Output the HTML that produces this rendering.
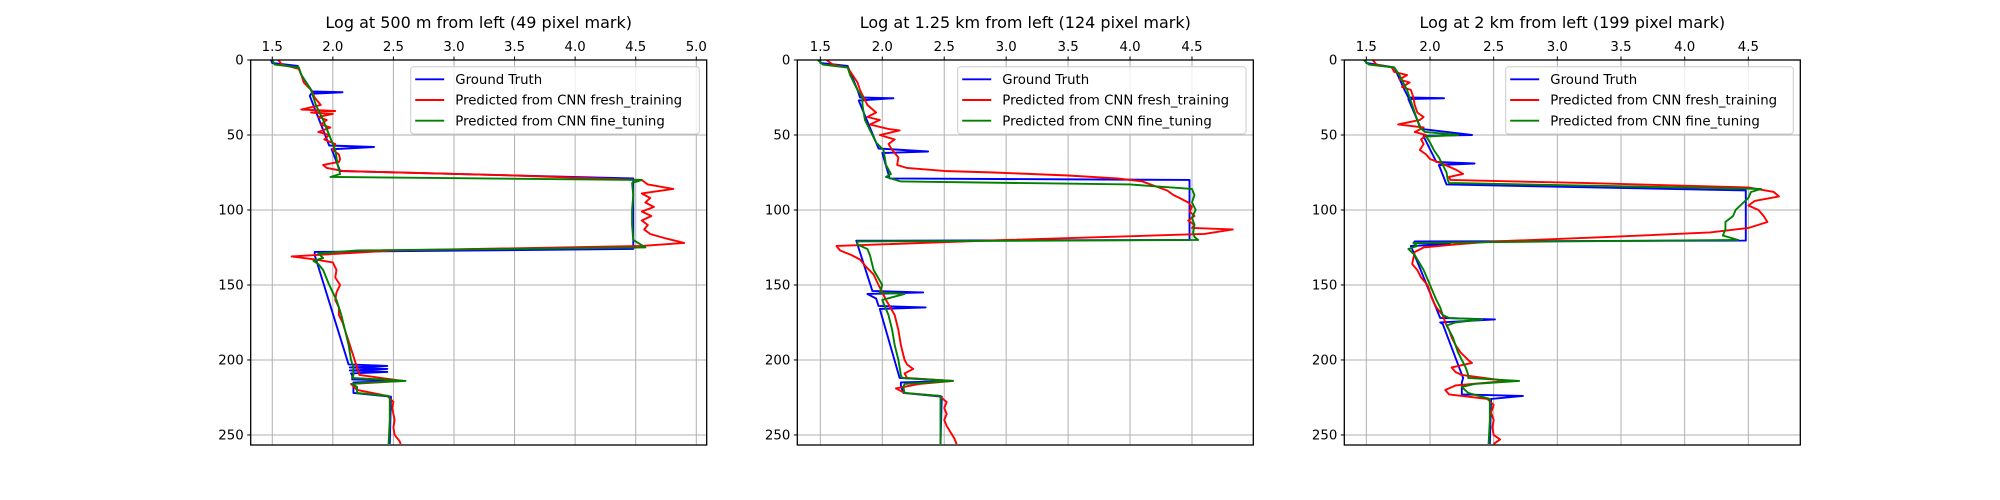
<!DOCTYPE html>
<html><head><meta charset="utf-8"><style>
html,body{margin:0;padding:0;background:#fff;}
svg{display:block;font-family:"DejaVu Sans","Liberation Sans",sans-serif;}
</style></head><body>
<svg id="fig" width="2000" height="500" viewBox="0 0 2000 500" xmlns="http://www.w3.org/2000/svg"></svg>
<script>
const xTickValues = [1.5,2.0,2.5,3.0,3.5,4.0,4.5,5.0];
const yTickValues = [0,50,100,150,200,250];
const titles = ["Log at 500 m from left (49 pixel mark)","Log at 1.25 km from left (124 pixel mark)","Log at 2 km from left (199 pixel mark)"];
const seriesNames = ["Ground Truth","Predicted from CNN fresh_training","Predicted from CNN fine_tuning"];

// Panel 1
const p1TruthDepth = [0,2,4,10,21,21.5,22.5,24,57,58,59.5,74,79,126,128,130,203,204,205,206,207,208,209,210,213,214,215,222,224.5,256];
const p1TruthValue = [1.49,1.5,1.71,1.74,1.83,2.08,1.82,1.81,1.97,2.34,1.99,2.06,4.48,4.48,1.85,1.85,2.13,2.45,2.14,2.45,2.14,2.45,2.15,2.16,2.16,2.58,2.17,2.17,2.48,2.47];
const p1FreshDepth = [0,3,6,10,15,20,25,30,33,34,35,36,38,40,43,45,48,50,53,56,60,63,66,68,70,72,74,77,80,83,86,89,92,95,98,101,104,107,110,113,116,119,122,124,127,131,133,135,140,145,150,155,160,165,170,175,180,185,190,195,200,205,210,214,216,220,224,228,232,236,240,245,250,254,256];
const p1FreshValue = [1.55,1.58,1.72,1.74,1.76,1.82,1.85,1.9,1.74,2.02,1.82,2.0,1.88,1.95,1.9,1.98,1.88,1.97,1.93,2.02,2.0,2.05,2.06,2.05,1.92,1.95,2.08,3.5,4.55,4.6,4.81,4.55,4.62,4.58,4.65,4.55,4.63,4.55,4.6,4.57,4.62,4.75,4.9,4.55,2.5,1.66,1.85,2.0,2.03,2.02,2.06,2.03,2.02,2.05,2.05,2.08,2.1,2.12,2.14,2.16,2.18,2.2,2.22,2.58,2.15,2.2,2.45,2.5,2.49,2.5,2.51,2.5,2.51,2.55,2.56];
const p1FineDepth = [0,3,5,10,15,20,25,30,40,50,60,70,76,78,80,82,90,100,110,120,125,127,129,132,134,136,140,150,160,170,180,190,200,205,210,212,213,214,215,216,218,222,224,226,240,256];
const p1FineValue = [1.5,1.52,1.72,1.74,1.78,1.82,1.84,1.86,1.92,1.97,2.02,2.04,2.06,1.98,4.55,4.47,4.48,4.47,4.47,4.48,4.58,2.2,1.88,1.92,1.84,1.88,1.92,1.97,2.03,2.07,2.1,2.13,2.15,2.17,2.17,2.16,2.4,2.6,2.3,2.16,2.2,2.2,2.46,2.47,2.47,2.46];

// Panel 2
const p2TruthDepth = [0,2,4,20,25,25.5,27,59,61,62,79,80,120,120.5,154,155,156,159,164,165,166,212,214,215,217,222,224.5,256];
const p2TruthValue = [1.5,1.5,1.72,1.8,1.82,2.09,1.81,1.97,2.37,2.0,2.06,4.48,4.48,1.79,1.92,2.33,1.88,1.95,1.97,2.35,1.98,2.14,2.57,2.15,2.15,2.17,2.48,2.47];
const p2FreshDepth = [0,3,5,10,15,20,25,30,35,38,40,43,46,47,50,53,56,60,65,70,72,74,75,77,79,81,84,87,90,92,95,98,101,104,107,110,112,113,116,120,124,127,130,133,138,143,150,155,160,170,180,190,200,203,206,209,212,214,216,219,222,224,228,232,236,240,244,248,252,256];
const p2FreshValue = [1.55,1.6,1.72,1.76,1.8,1.82,1.85,1.88,1.95,1.88,1.98,1.9,2.05,2.14,1.98,2.1,2.05,2.08,2.13,2.12,2.2,2.5,2.9,3.5,3.9,4.1,4.2,4.3,4.35,4.4,4.47,4.5,4.48,4.52,4.47,4.52,4.5,4.83,4.6,3.0,1.63,1.66,1.75,1.82,1.87,1.93,1.97,2.0,2.03,2.1,2.13,2.15,2.18,2.2,2.25,2.18,2.2,2.57,2.3,2.11,2.18,2.46,2.52,2.5,2.52,2.5,2.52,2.55,2.58,2.6];
const p2FineDepth = [0,3,5,10,20,25,30,40,50,55,60,70,76,78,81,83,86,90,95,100,105,110,115,118,120,121,123,126,130,140,150,155,156,160,170,180,190,200,210,212,214,216,218,222,224,230,256];
const p2FineValue = [1.48,1.52,1.72,1.74,1.8,1.84,1.84,1.86,1.92,1.95,2.01,2.03,2.07,2.03,2.15,4.0,4.5,4.52,4.5,4.53,4.5,4.52,4.51,4.52,4.55,1.8,1.8,1.88,1.9,1.93,2.0,1.98,2.18,2.0,2.05,2.08,2.1,2.13,2.15,2.16,2.57,2.18,2.17,2.18,2.47,2.47,2.47];

// Panel 3
const p3TruthDepth = [0,2,5,20,25,25.5,26,46,50,50.5,51,68,69,70,83,87,120.4,121,122,123,124,172,173,175,176,212,215,223,224,226,256];
const p3TruthValue = [1.49,1.5,1.72,1.8,1.83,2.11,1.83,1.93,2.33,1.95,1.95,2.05,2.35,2.07,2.13,4.48,4.48,1.88,1.87,2.16,1.85,2.08,2.51,2.08,2.1,2.26,2.25,2.25,2.73,2.48,2.47];
const p3FreshDepth = [0,3,5,8,10,13,15,18,20,25,30,35,38,40,43,45,48,50,53,56,60,63,66,70,73,76,78,80,82,85,88,91,94,97,100,104,108,112,115,118,121,123,125,128,132,136,140,145,150,155,160,165,170,175,180,185,190,195,200,202,205,208,210,214,217,220,223,226,230,235,240,245,250,253,256];
const p3FreshValue = [1.55,1.58,1.7,1.72,1.82,1.76,1.84,1.78,1.85,1.87,1.88,1.9,1.95,1.92,1.75,1.95,1.88,1.97,1.93,1.95,1.92,1.97,2.0,2.12,2.2,2.26,2.15,2.16,3.2,4.5,4.7,4.74,4.55,4.5,4.58,4.62,4.65,4.5,4.2,3.4,2.5,2.2,1.95,1.88,1.87,1.86,1.9,1.93,1.98,2.0,2.02,2.05,2.1,2.12,2.15,2.17,2.2,2.24,2.3,2.33,2.17,2.2,2.25,2.6,2.2,2.12,2.15,2.45,2.5,2.48,2.5,2.49,2.5,2.55,2.5];
const p3FineDepth = [0,3,5,10,20,30,40,45,48,50,51,55,60,65,70,75,80,82,86,88,92,96,100,104,108,113,117,120,121,122,124,126,130,140,150,160,165,170,172,173,175,177,185,195,205,210,212,214,216,218,222,226,240,256];
const p3FineValue = [1.48,1.52,1.72,1.76,1.82,1.86,1.9,1.92,1.96,2.22,1.97,2.0,2.03,2.07,2.1,2.13,2.14,2.15,4.6,4.52,4.5,4.45,4.4,4.38,4.32,4.32,4.3,4.42,3.0,1.87,1.9,1.83,1.88,1.95,2.0,2.05,2.08,2.1,2.15,2.41,2.2,2.13,2.18,2.22,2.28,2.3,2.3,2.7,2.35,2.25,2.3,2.47,2.47,2.46];

const panels = [
  {left:250.7,right:706.7,xmin:1.322,xmax:5.086,legX:410.7,legW:288.6,series:[[p1TruthDepth,p1TruthValue],[p1FreshDepth,p1FreshValue],[p1FineDepth,p1FineValue]]},
  {left:797.3,right:1253.3,xmin:1.314,xmax:4.995,legX:957.7,legW:288.3,series:[[p2TruthDepth,p2TruthValue],[p2FreshDepth,p2FreshValue],[p2FineDepth,p2FineValue]]},
  {left:1344.3,right:1800.3,xmin:1.327,xmax:4.908,legX:1505.7,legW:287.6,series:[[p3TruthDepth,p3TruthValue],[p3FreshDepth,p3FreshValue],[p3FineDepth,p3FineValue]]}
];
const colors = ["#0000ff","#ff0000","#008000"];
const TOP=60, BOTTOM=445, YMIN=0, YMAX=256.7;
const NS="http://www.w3.org/2000/svg";
const svg=document.getElementById('fig');
function mk(tag,attrs,parent){const e=document.createElementNS(NS,tag);for(const k in attrs)e.setAttribute(k,attrs[k]);(parent||svg).appendChild(e);return e;}

panels.forEach((p,pi)=>{
  const g=mk('g',{});
  
  
  const xs=v=>p.left+(v-p.xmin)/(p.xmax-p.xmin)*(p.right-p.left);
  const ys=d=>TOP+(d-YMIN)/(YMAX-YMIN)*(BOTTOM-TOP);
  xTickValues.forEach(v=>{
    if(v<p.xmin||v>p.xmax)return;
    const x=xs(v);
    const gl=mk('line',{x1:x,x2:x,y1:TOP,y2:BOTTOM,stroke:'#b0b0b0','stroke-width':1},g);
    
    
    mk('line',{x1:x,x2:x,y1:TOP,y2:TOP-3.5,stroke:'#000','stroke-width':1},g);
    const t=mk('text',{x:x,y:TOP-9,'text-anchor':'middle','font-size':13.3,fill:'#000'},g);
    t.textContent=v.toFixed(1);
    
    
  });
  yTickValues.forEach(v=>{
    const y=ys(v);
    const gl=mk('line',{x1:p.left,x2:p.right,y1:y,y2:y,stroke:'#b0b0b0','stroke-width':1},g);
    
    
    mk('line',{x1:p.left-3.5,x2:p.left,y1:y,y2:y,stroke:'#000','stroke-width':1},g);
    const t=mk('text',{x:p.left-7,y:y+4.5,'text-anchor':'end','font-size':13.3,fill:'#000'},g);
    t.textContent=String(v);
    
    
  });
  const clipId='clip'+pi;
  const cp=mk('clipPath',{id:clipId},g);
  mk('rect',{x:p.left,y:TOP,width:p.right-p.left,height:BOTTOM-TOP},cp);
  p.series.forEach((s,si)=>{
    const [dep,val]=s;
    const pts=dep.map((d,i)=>xs(val[i]).toFixed(2)+','+ys(d).toFixed(2)).join(' ');
    const pl=mk('polyline',{points:pts,fill:'none',stroke:colors[si],'stroke-width':1.9,'stroke-linejoin':'round','clip-path':'url(#'+clipId+')'},g);
    
    
  });
  const fr=mk('rect',{x:p.left,y:TOP,width:p.right-p.left,height:BOTTOM-TOP,fill:'none',stroke:'#000','stroke-width':1.3},g);
  
  
  const tt=mk('text',{x:(p.left+p.right)/2,y:28,'text-anchor':'middle','font-size':16,fill:'#000'},g);
  tt.textContent=titles[pi];
  
  
  const lg=mk('g',{},g);
  
  
  mk('rect',{x:p.legX,y:66.7,width:p.legW,height:67.3,rx:3,fill:'#fff','fill-opacity':0.8,stroke:'#cccccc','stroke-width':1},lg);
  seriesNames.forEach((n,si)=>{
    const y=79.3+si*20.7;
    const e=mk('g',{},lg);
    
    
    mk('line',{x1:p.legX+4.5,x2:p.legX+33.5,y1:y,y2:y,stroke:colors[si],'stroke-width':1.9},e);
    const t=mk('text',{x:p.legX+44.6,y:y+4.6,'font-size':13.3,fill:'#000'},e);
    t.textContent=n;
  });
});
</script>
</body></html>
